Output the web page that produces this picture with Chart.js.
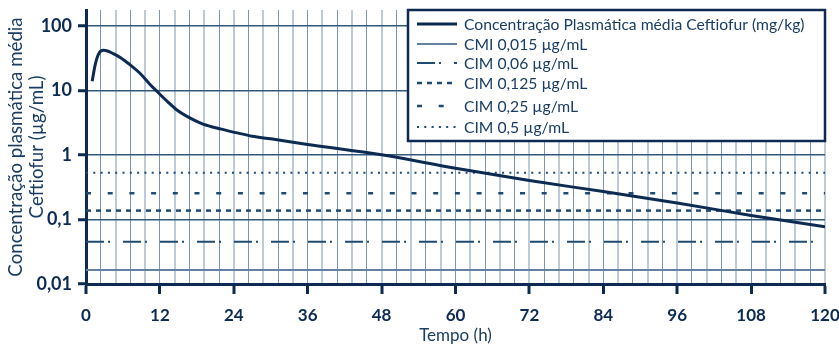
<!DOCTYPE html>
<html>
<head>
<meta charset="utf-8">
<script src="https://cdn.jsdelivr.net/npm/chart.js@4"></script>
<style>
  html, body { margin: 0; padding: 0; background: #fff; }
  #wrap { width: 839px; height: 344px; }
</style>
</head>
<body>
<div id="wrap"><canvas id="myChart" width="839" height="344"></canvas></div>
<script>
'use strict';
// data
const hours = [1, 1.5, 2, 2.8, 3.6, 4.4, 5.5, 7, 8.8, 10.4, 11.5, 13, 14.7, 16.4, 19, 22, 24.5, 27, 30, 36, 48, 60, 72, 84, 96, 108, 120];
const concentration = [13.8, 25, 35.7, 41.5, 40.2, 37, 32.5, 25.5, 18.2, 12.3, 9.7, 7, 5.0, 3.95, 3.0, 2.5, 2.19, 1.94, 1.77, 1.45, 1.0, 0.62, 0.4, 0.27, 0.18, 0.115, 0.077];
const curveLabel = 'Concentração Plasmática média Ceftiofur (mg/kg)';
const micLabels = ['CMI 0,015 µg/mL', 'CIM 0,06 µg/mL', 'CIM 0,125 µg/mL', 'CIM 0,25 µg/mL', 'CIM 0,5 µg/mL'];
const micLevels = [0.0165, 0.045, 0.137, 0.254, 0.53];
const xRange = [0, 120];
const yTicks = [0.01, 0.1, 1, 10, 100];
const yTickLabels = ['0,01', '0,1', '1', '10', '100'];

const NAVY = '#0d2b52';
const DASH = '#1f4a72';
const FONT = 'Lato, "Noto Sans", sans-serif';

const micStyles = [
  { color: '#6482a0', width: 2, dash: [] },
  { color: DASH, width: 2, dash: [18, 4, 2, 13] },
  { color: DASH, width: 2.5, dash: [5, 5] },
  { color: DASH, width: 2.5, dash: [5, 16.7] },
  { color: DASH, width: 2, dash: [2, 5.3] },
];

const datasets = [{
  label: curveLabel,
  data: hours.map((h, i) => ({ x: h, y: concentration[i] })),
  borderColor: NAVY,
  borderWidth: 3,
  pointRadius: 0,
  cubicInterpolationMode: 'monotone',
  fill: false,
}];
for (let i = 0; i < micLevels.length; i++) {
  datasets.push({
    label: micLabels[i],
    data: [{ x: xRange[0], y: micLevels[i] }, { x: xRange[1], y: micLevels[i] }],
    borderColor: micStyles[i].color,
    borderWidth: micStyles[i].width,
    borderDash: micStyles[i].dash,
    pointRadius: 0,
    fill: false,
  });
}

function isMajor(v) {
  return Math.abs(v / 12 - Math.round(v / 12)) < 1e-6;
}

// legend box drawn inside the plot
const legendBox = {
  id: 'legendBox',
  afterDatasetsDraw(chart) {
    const ctx = chart.ctx;
    const right = chart.chartArea.right;
    const bx = 408, by = 10, bw = right - bx, bh = 131;
    const rows = [24, 44, 63, 83, 106, 127];
    ctx.save();
    ctx.fillStyle = '#fff';
    ctx.fillRect(bx, by, bw, bh);
    ctx.strokeStyle = NAVY;
    ctx.lineWidth = 2.5;
    ctx.strokeRect(bx, by, bw, bh);
    ctx.font = '15.7px ' + FONT;
    ctx.textBaseline = 'middle';
    ctx.fillStyle = '#1a3d63';
    chart.data.datasets.forEach((ds, i) => {
      const y = rows[i];
      ctx.beginPath();
      ctx.strokeStyle = ds.borderColor;
      ctx.lineWidth = ds.borderWidth;
      ctx.setLineDash(ds.borderDash || []);
      ctx.moveTo(417, y);
      ctx.lineTo(457, y);
      ctx.stroke();
      ctx.setLineDash([]);
      ctx.fillText(ds.label, 464, y + 1);
    });
    ctx.restore();
  }
};

new Chart(document.getElementById('myChart'), {
  type: 'line',
  data: { datasets: datasets },
  plugins: [legendBox],
  options: {
    responsive: false,
    animation: false,
    layout: { padding: { top: 10, right: 14, bottom: 0, left: 0 } },
    plugins: { legend: { display: false }, tooltip: { enabled: false } },
    scales: {
      x: {
        type: 'linear',
        min: xRange[0],
        max: xRange[1],
        afterFit: (axis) => {
          axis.height = 60;
          axis.paddingRight = 0;
          axis.paddingLeft = 0;
        },
        ticks: {
          stepSize: 2.4,
          autoSkip: false,
          maxRotation: 0,
          color: NAVY,
          padding: 11,
          font: { family: FONT, size: 17, weight: 'bold' },
          callback: (v) => isMajor(v) ? String(Math.round(v)) : '',
        },
        grid: {
          color: (c) => (Math.round(c.tick.value / 2.4) % 2 === 1) ? '#7b96b2' : '#bccbda',
          lineWidth: (c) => (Math.round(c.tick.value / 2.4) % 2 === 1) ? 1 : 2,
          tickLength: 10,
          tickColor: (c) => isMajor(c.tick.value) ? NAVY : 'rgba(0,0,0,0)',
          tickWidth: 3,
        },
        border: { color: NAVY, width: 3 },
        title: {
          display: true,
          text: 'Tempo (h)',
          color: '#1a3d63',
          font: { family: FONT, size: 17, lineHeight: 1.0 },
          padding: { top: 1, bottom: 0 },
        },
      },
      y: {
        type: 'logarithmic',
        min: 0.01,
        max: 175,
        afterBuildTicks: (axis) => {
          axis.ticks = yTicks.map((v) => ({ value: v }));
        },
        afterFit: (axis) => {
          axis.width = 86;
          axis.paddingTop = 0;
          axis.paddingBottom = 0;
        },
        ticks: {
          color: NAVY,
          padding: 6,
          font: { family: FONT, size: 18, weight: 'bold' },
          callback: (v) => {
            const k = yTicks.findIndex((t) => Math.abs(t - v) / t < 1e-6);
            return k >= 0 ? yTickLabels[k] : '';
          },
        },
        grid: {
          color: '#33597d',
          lineWidth: 1.5,
          tickLength: 8,
          tickColor: NAVY,
          tickWidth: 3,
        },
        border: { color: NAVY, width: 3 },
        title: {
          display: true,
          text: ['Concentração plasmática média', 'Ceftiofur (µg/mL)'],
          color: '#1a3d63',
          font: { family: FONT, size: 18.7, lineHeight: 1.1 },
          padding: { top: 6, bottom: 0 },
        },
      },
    },
  },
});
</script>
</body>
</html>
